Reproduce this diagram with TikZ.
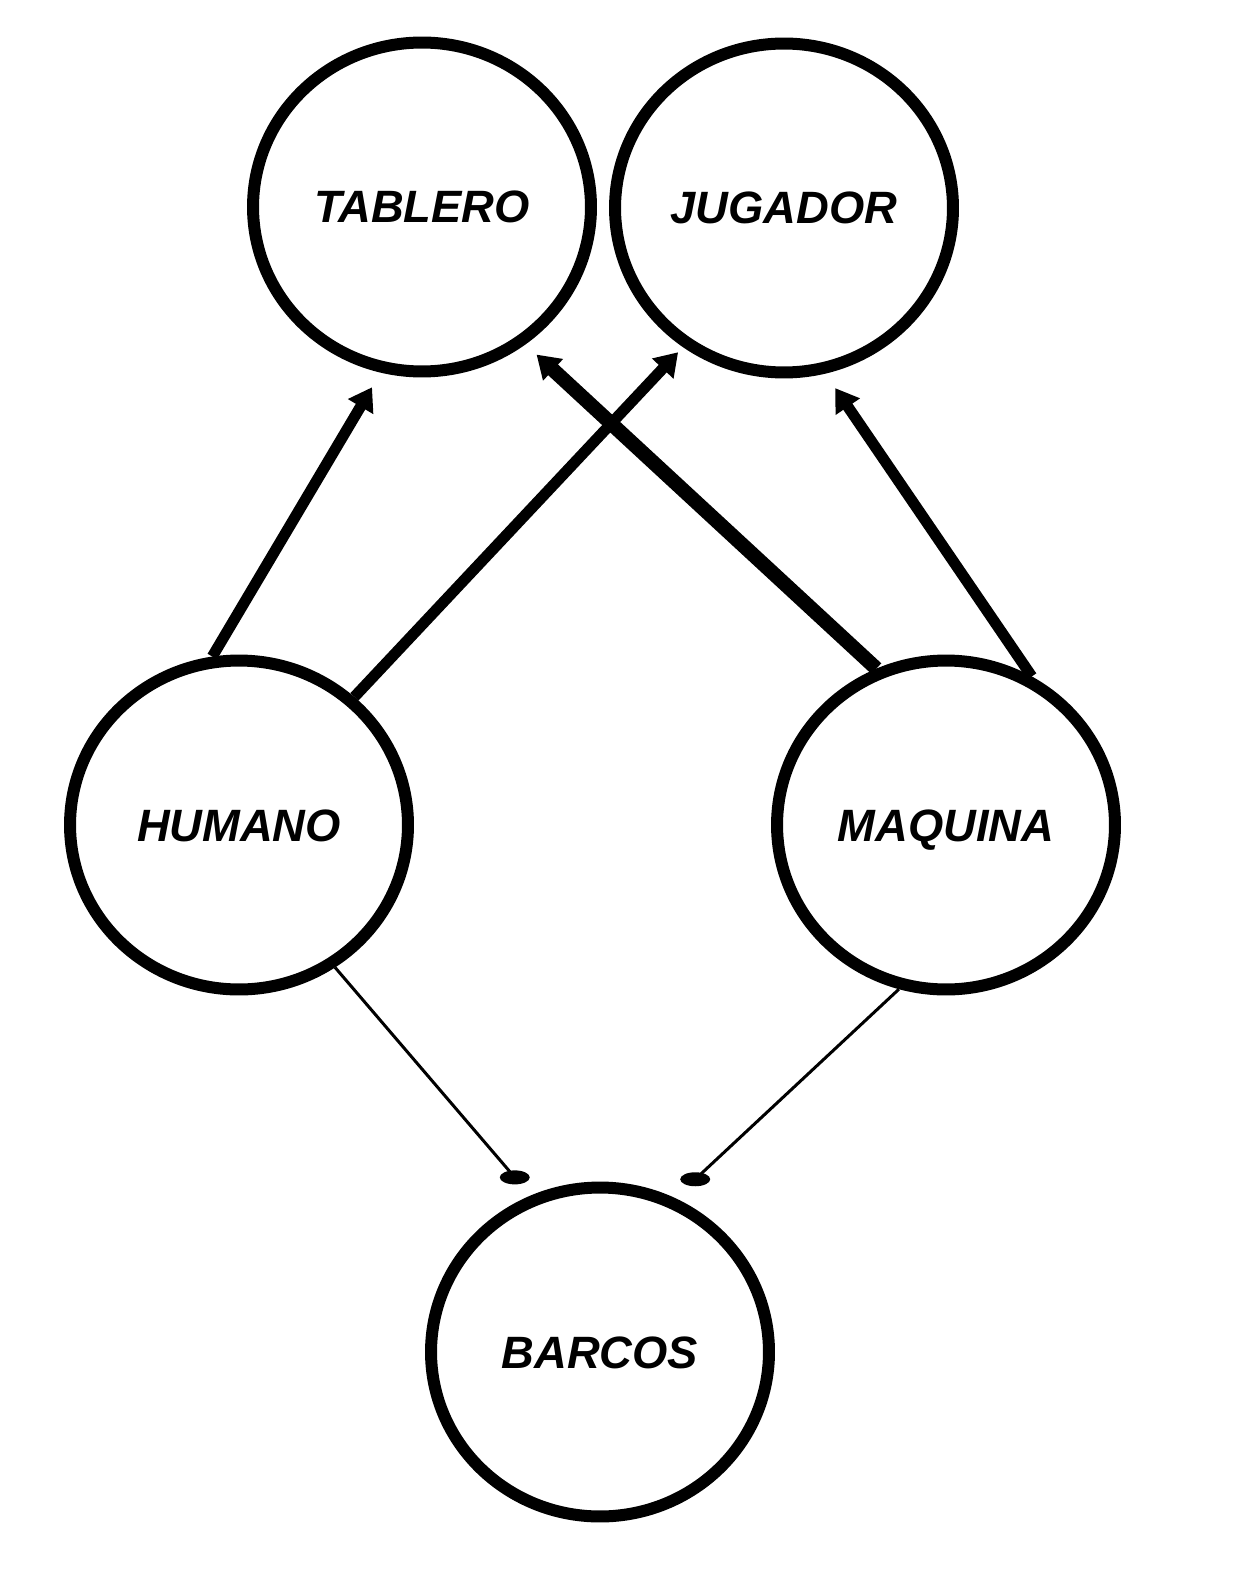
\documentclass[tikz,border=0pt]{standalone}
\usepackage{fontspec}
\setmainfont{Liberation Sans}
\usetikzlibrary{arrows.meta,shapes.geometric}

\begin{document}
\begin{tikzpicture}[
  x=0.02cm,y=-0.02cm,
  entity/.style={ellipse,draw=black,line width=0.24cm,fill=white,minimum width=6.76cm,minimum height=6.58cm,inner sep=0pt,text height=0.64cm,text depth=0cm,font=\fontsize{25.8}{30}\selectfont\bfseries\itshape},
  arrow/.style={-{Triangle[length=0.45cm,width=0.56cm]},line width=0.22cm},
  heavy/.style={arrow,line width=0.29cm},
  thinlink/.style={line width=0.06cm},
  dotend/.style={ellipse,fill=black,minimum width=0.6cm,minimum height=0.28cm,inner sep=0pt}
]
\useasboundingbox (0,0) rectangle (1242,1581);
% classes
\node[entity] (tablero) at (422,207) {TABLERO};
\node[entity] (jugador) at (784,208) {JUGADOR};
\node[entity] (humano) at (239,825) {HUMANO};
\node[entity] (maquina) at (946,825) {MAQUINA};
\node[entity] (barcos) at (600,1352) {BARCOS};
% inheritance
\draw[arrow,shorten >=0.34cm] (humano.99) -- (tablero.256);
\draw[arrow,shorten >=0.14cm] (humano.48) -- (jugador.234);
\draw[heavy,shorten >=0.3cm] (maquina.114) -- (tablero.307);
\draw[arrow,shorten >=0.35cm] (maquina.60) -- (jugador.284);
% composition
\draw[thinlink,shorten >=0.5cm] (humano.304) -- (barcos.114) node[pos=0.92,dotend] (hdot) {};
\draw[thinlink,shorten >=0.56cm] (maquina.254) -- (barcos.64) node[pos=0.91,dotend] (mdot) {};
\end{tikzpicture}
\end{document}
